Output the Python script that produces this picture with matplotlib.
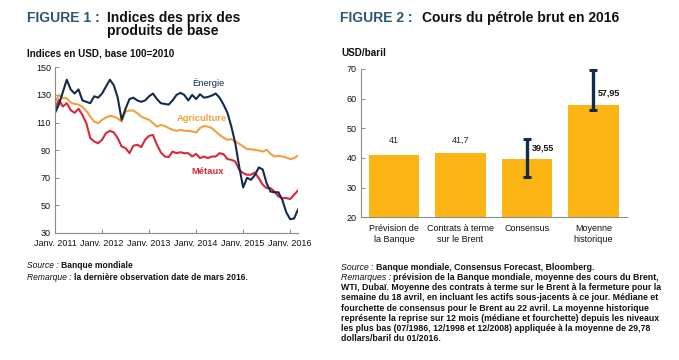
import matplotlib
matplotlib.use("Agg")
import matplotlib.pyplot as plt
from matplotlib import font_manager
import numpy as np

# ---------------- data ----------------
energie = [117, 123, 132, 141, 134, 131, 134, 126, 125, 124, 129, 128,
           131, 136, 141, 137, 128, 112, 120, 127, 128, 126, 125, 126,
           129, 131, 127, 124, 123.5, 123, 126, 130, 131.5, 130, 126, 130,
           127, 130.5, 128, 128.5, 129.5, 131, 128, 123, 117, 107, 95, 78,
           63, 70, 68.5, 72, 77.5, 76, 66, 60, 59.5, 59.5, 54, 45,
           40, 40.5, 47]
agriculture = [124.5, 130, 127.6, 127.6, 124.5, 123.5, 123, 121.5, 118.4, 114.3, 110.7, 109.5,
               112, 113.6, 114.8, 114.3, 113, 110.7, 118, 118.7, 118.7, 116.7, 114.3, 113,
               112, 109.5, 107, 108.3, 107.5, 106, 104.7, 104, 104.7, 104, 104, 103.5,
               102.8, 106, 107.5, 107, 106, 103.5, 101, 99, 97.5, 98, 96.3, 94.6,
               92.7, 90.7, 90.7, 90.2, 89.7, 89, 90.2, 87.3, 85.4, 85.9, 85.4, 84.7,
               83.5, 84.2, 86]
metaux = [120, 126.4, 121.6, 124, 119, 117, 120, 115.5, 109.5, 98.7, 96.3, 95,
          97.5, 102.3, 104, 102.8, 98.7, 92.7, 91.5, 87.8, 93.2, 93.9, 92.2, 97.5,
          100.4, 101, 94, 88.4, 85.4, 85, 89, 87.8, 88.5, 87.8, 87.8, 85.4,
          87.3, 84.2, 85.4, 84.2, 85.4, 85.4, 87.8, 87.1, 83.5, 83, 81.8, 75.8,
          73.4, 72.2, 72.2, 73.8, 69.7, 65, 62.5, 62.5, 60, 56.5, 55.3, 55.3,
          54.6, 57.7, 60.8]
year_ticks = [0, 12, 24, 36, 48, 60]
year_labels = ["Janv. 2011", "Janv. 2012", "Janv. 2013", "Janv. 2014", "Janv. 2015", "Janv. 2016"]

bar_cats = ["Prévision de\nla Banque", "Contrats à terme\nsur le Brent", "Consensus", "Moyenne\nhistorique"]
bar_vals = [41, 41.7, 39.55, 57.95]
bar_labels = ["41", "41,7", "39,55", "57,95"]
err_low = [None, None, 33.7, 56.2]
err_high = [None, None, 46.3, 69.7]

# ---------------- style ----------------
names = {f.name for f in font_manager.fontManager.ttflist}
NARROW = "Liberation Sans Narrow" if "Liberation Sans Narrow" in names else "Liberation Sans"
nscale = 1.0 if NARROW == "Liberation Sans Narrow" else 0.93
plt.rcParams['font.family'] = ['Liberation Sans', 'DejaVu Sans']

C_EN = "#132c4b"
C_AG = "#f0a040"
C_ME = "#d8283a"
C_BAR = "#fdb515"
C_AX = "#8a8a8a"
C_FIG = "#2f566f"

W, H = 679, 360
fig = plt.figure(figsize=(W / 100, H / 100), dpi=100)

def fx(x):
    return x / W

def fy(y):
    return 1 - y / H

TICK_FS = 7 * nscale

# ---------------- left chart ----------------
ax1 = fig.add_axes([fx(55), fy(233), (298 - 55) / W, (233 - 67.3) / H])
x = np.arange(len(energie))
ax1.plot(x, agriculture, color=C_AG, lw=1.5, solid_joinstyle='round')
ax1.plot(x, metaux, color=C_ME, lw=1.5, solid_joinstyle='round')
ax1.plot(x, energie, color=C_EN, lw=1.5, solid_joinstyle='round')
ax1.set_xlim(0, 62)
ax1.set_ylim(30, 150)
ax1.set_yticks(range(30, 151, 20))
ax1.set_xticks(year_ticks)
ax1.set_xticklabels(year_labels)
for s in ["top", "right"]:
    ax1.spines[s].set_visible(False)
for s in ["left", "bottom"]:
    ax1.spines[s].set_color(C_AX)
    ax1.spines[s].set_linewidth(0.8)
ax1.tick_params(axis='both', direction='in', length=3, width=0.7, color=C_AX,
                labelsize=TICK_FS, pad=3, labelcolor='#111111')
for lab in ax1.get_xticklabels() + ax1.get_yticklabels():
    lab.set_fontfamily(NARROW)
ax1.tick_params(axis='x', pad=4)

fig.text(fx(208), fy(83), "Énergie", color=C_EN, fontsize=7.3 * nscale, family=NARROW,
         ha='center', va='center')
fig.text(fx(202), fy(118.7), "Agriculture", color=C_AG, fontsize=7.3 * nscale, family=NARROW,
         ha='center', va='center', weight='bold')
fig.text(fx(208), fy(171), "Métaux", color=C_ME, fontsize=7.3 * nscale, family=NARROW,
         ha='center', va='center', weight='bold')

# ---------------- right chart ----------------
ax2 = fig.add_axes([fx(360.7), fy(217.3), 266 / W, (217.3 - 69) / H])
xb = np.arange(len(bar_vals))
ax2.bar(xb, [v - 20 for v in bar_vals], bottom=20, width=0.76, color=C_BAR)
ax2.set_xlim(-0.5, 3.5)
ax2.set_ylim(20, 70)
ax2.set_yticks(range(20, 71, 10))
ax2.set_xticks(xb)
ax2.set_xticklabels(bar_cats, linespacing=1.3)
for s in ["top", "right"]:
    ax2.spines[s].set_visible(False)
for s in ["left", "bottom"]:
    ax2.spines[s].set_color(C_AX)
    ax2.spines[s].set_linewidth(0.8)
ax2.tick_params(axis='y', direction='in', length=3, width=0.7, color=C_AX,
                labelsize=TICK_FS, pad=3, labelcolor='#111111')
ax2.tick_params(axis='x', length=0, labelsize=TICK_FS, pad=5, labelcolor='#111111')
for lab in ax2.get_xticklabels() + ax2.get_yticklabels():
    lab.set_fontfamily(NARROW)

for i, v in enumerate(bar_vals):
    if err_low[i] is not None:
        ax2.errorbar(xb[i], v, yerr=[[v - err_low[i]], [err_high[i] - v]], fmt='none',
                     ecolor=C_EN, elinewidth=2.4, capsize=2.6, capthick=2.2)
        ax2.text(xb[i] + 0.07, v + 3.8, bar_labels[i], fontsize=TICK_FS, family=NARROW,
                 weight='bold', ha='left', va='center', color='#111111')
    else:
        ax2.text(xb[i], 46, bar_labels[i], fontsize=TICK_FS, family=NARROW,
                 ha='center', va='center', color='#222222')

# ---------------- titles ----------------
fig.text(fx(27), fy(18), "FIGURE 1 :", color=C_FIG, fontsize=10, weight='bold', va='center')
fig.text(fx(107), fy(18), "Indices des prix des", color='#111111', fontsize=10, weight='bold', va='center')
fig.text(fx(107), fy(31.5), "produits de base", color='#111111', fontsize=10, weight='bold', va='center')
fig.text(fx(340), fy(18), "FIGURE 2 :", color=C_FIG, fontsize=10, weight='bold', va='center')
fig.text(fx(422), fy(18), "Cours du pétrole brut en 2016", color='#111111', fontsize=10, weight='bold', va='center')

fig.text(fx(27), fy(54), "Indices en USD, base 100=2010", color='#111111', fontsize=7.1, weight='bold', va='center')
fig.text(fx(341), fy(53), "USD/baril", color='#111111', fontsize=7.1, weight='bold', va='center')

# ---------------- notes ----------------
renderer = fig.canvas.get_renderer()

def mixed(xpx, ypx, parts, fs=6.0):
    xcur = fx(xpx)
    for txt, style in parts:
        t = fig.text(xcur, fy(ypx), txt, fontsize=fs, va='center', color='#111111',
                     style='italic' if style == 'i' else 'normal',
                     weight='normal' if style == 'i' else 'bold')
        bb = t.get_window_extent(renderer=renderer)
        xcur = bb.x1 / W

mixed(27, 266, [("Source : ", 'i'), ("Banque mondiale", 'b')], fs=6.15)
mixed(27, 277, [("Remarque : ", 'i'), ("la dernière observation date de mars 2016.", 'b')], fs=6.15)

notes_right = [
    [("Source : ", 'i'), ("Banque mondiale, Consensus Forecast, Bloomberg.", 'b')],
    [("Remarques : ", 'i'), ("prévision de la Banque mondiale, moyenne des cours du Brent,", 'b')],
    [("WTI, Dubaï. Moyenne des contrats à terme sur le Brent à la fermeture pour la", 'b')],
    [("semaine du 18 avril, en incluant les actifs sous-jacents à ce jour. Médiane et", 'b')],
    [("fourchette de consensus pour le Brent au 22 avril. La moyenne historique", 'b')],
    [("représente la reprise sur 12 mois (médiane et fourchette) depuis les niveaux", 'b')],
    [("les plus bas (07/1986, 12/1998 et 12/2008) appliquée à la moyenne de 29,78", 'b')],
    [("dollars/baril du 01/2016.", 'b')],
]
for k, parts in enumerate(notes_right):
    mixed(341, 267.7 + 10.1 * k, parts, fs=6.35)

fig.savefig("out.png", dpi=100)
